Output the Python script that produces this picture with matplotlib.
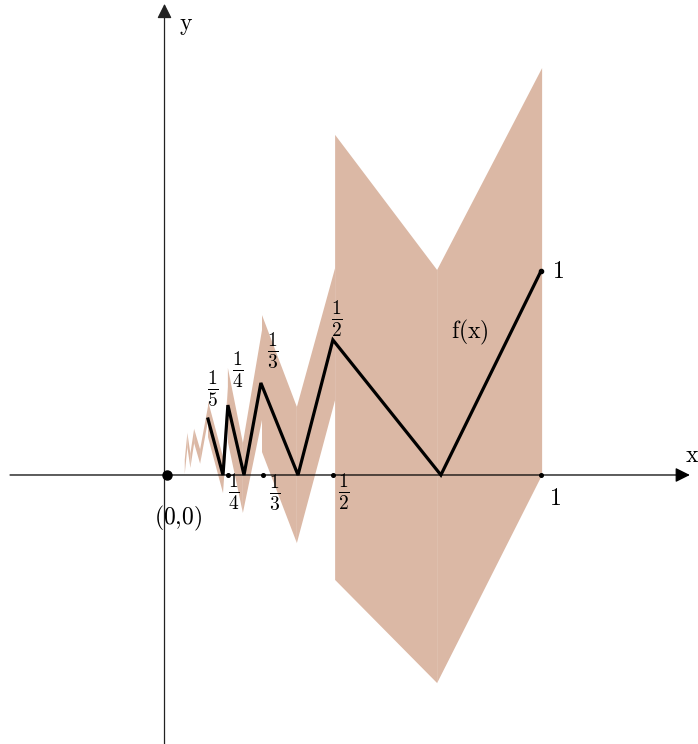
import numpy as np
import matplotlib.pyplot as plt

plt.rcParams['mathtext.fontset'] = 'cm'

# zigzag f(x) vertices (drawn part)
zig_x = [0.112, 0.152, 0.165, 0.208, 0.253, 0.352, 0.445, 0.733, 1.0]
zig_y = [0.273, 0.0, 0.341, 0.0, 0.449, 0.0, 0.659, 0.0, 0.995]

# shaded band pieces: x0, x1, top at x0, top at x1, bottom at x0, bottom at x1
band_x0 = [0.723, 0.451, 0.349, 0.256, 0.205, 0.165, 0.152, 0.112]
band_x1 = [1.003, 0.723, 0.451, 0.349, 0.256, 0.205, 0.165, 0.152]
band_t0 = [1.000, 1.659, 0.332, 0.780, 0.156, 0.522, 0.088, 0.361]
band_t1 = [1.985, 1.000, 1.010, 0.332, 0.707, 0.156, 0.429, 0.088]
band_b0 = [-1.015, -0.512, -0.332, 0.112, -0.185, 0.161, -0.088, 0.185]
band_b1 = [0.000, -1.015, 0.366, -0.332, 0.268, -0.185, 0.254, -0.088]

# tiny band pieces near the origin (no line drawn there)
tiny_x = [0.050, 0.057, 0.065, 0.075, 0.091, 0.112]
tiny_y = [0.04, 0.17, 0.07, 0.19, 0.09, 0.30]
tiny_w = 0.035

# tick positions and labels
tick_x = [0.165, 0.259, 0.445, 1.0]
tick_lbl = [r'$\frac{1}{4}$', r'$\frac{1}{3}$', r'$\frac{1}{2}$']
tick_lbl_x = [0.181, 0.291, 0.475]
peak_lbl = [r'$\frac{1}{5}$', r'$\frac{1}{4}$', r'$\frac{1}{3}$', r'$\frac{1}{2}$']
peak_lbl_x = [0.125, 0.192, 0.285, 0.456]
peak_lbl_y = [0.424, 0.512, 0.610, 0.761]

shade = '#dbb8a5'

fig = plt.figure(figsize=(6.98, 7.44), dpi=100)
ax = fig.add_axes([0, 0, 1, 1])
ax.set_xlim(-0.4427, 1.4187)
ax.set_ylim(-1.3122, 2.317)
ax.axis('off')

for x0, x1, t0, t1, b0, b1 in zip(band_x0, band_x1, band_t0, band_t1, band_b0, band_b1):
    ax.fill([x0, x1, x1, x0], [t0, t1, b1, b0], color=shade, lw=0, zorder=1)

for i in range(len(tiny_x) - 1):
    xa, xb = tiny_x[i], tiny_x[i + 1]
    ya, yb = tiny_y[i], tiny_y[i + 1]
    ax.fill([xa, xb, xb, xa], [ya + tiny_w, yb + tiny_w, yb - tiny_w, ya - tiny_w],
            color=shade, lw=0, zorder=1)

# axes with arrows
ax.annotate('', xy=(1.397, 0), xytext=(-0.416, 0),
            arrowprops=dict(arrowstyle='-|>', color='black', lw=0.9, mutation_scale=22,
                            shrinkA=0, shrinkB=0), zorder=3)
ax.annotate('', xy=(-0.004, 2.298), xytext=(-0.004, -1.312),
            arrowprops=dict(arrowstyle='-|>', color='#222222', lw=0.9, mutation_scale=22,
                            shrinkA=0, shrinkB=0), zorder=3)

ax.plot(zig_x, zig_y, color='black', lw=2.3, solid_joinstyle='miter', zorder=4)
ax.plot([zig_x[-1]], [zig_y[-1]], 'o', color='black', ms=3, zorder=5)
ax.plot(tick_x, [0] * len(tick_x), 'o', color='black', ms=2.6, zorder=5)
ax.plot([0.003], [0], 'o', color='black', ms=6.5, zorder=5)

for s, x in zip(tick_lbl, tick_lbl_x):
    ax.text(x, -0.083, s, fontsize=20, ha='center', va='center', zorder=6)
for s, x, y in zip(peak_lbl, peak_lbl_x, peak_lbl_y):
    ax.text(x, y, s, fontsize=20, ha='center', va='center', zorder=6)

ax.text(1.037, -0.112, r'$\mathrm{1}$', fontsize=17, ha='center', va='center')
ax.text(1.045, 0.995, r'$\mathrm{1}$', fontsize=17, ha='center', va='center')
ax.text(0.811, 0.693, r'$\mathrm{f(x)}$', fontsize=17, ha='center', va='center')
ax.text(0.032, -0.21, r'$\mathrm{(0{,}0)}$', fontsize=17, ha='center', va='center')
ax.text(0.053, 2.195, r'$\mathrm{y}$', fontsize=17, ha='center', va='center')
ax.text(1.403, 0.098, r'$\mathrm{x}$', fontsize=17, ha='center', va='center')

plt.savefig('out.png', dpi=100)
